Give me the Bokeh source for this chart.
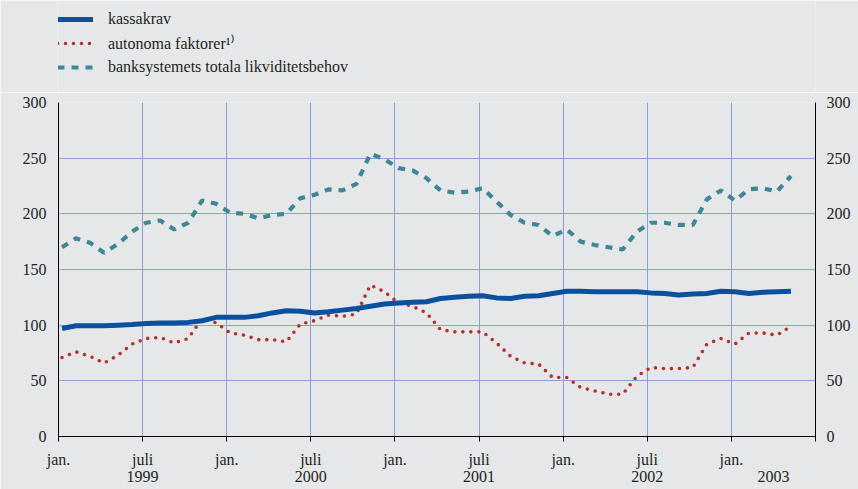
from bokeh.plotting import figure
from bokeh.layouts import column
from bokeh.models import Range1d, LinearAxis, FixedTicker, Legend, LegendItem, ColumnDataSource
from bokeh.embed import file_html
from bokeh.resources import INLINE

# month index counted from January 1999 (0 = jan. 1999), one value per month
month_index = list(range(53))
kassakrav = [97, 99.5, 99.5, 99.5, 100, 100.5, 101.5, 102, 102, 102.5,
             104, 107, 107, 107, 108.5, 111, 113, 112.5, 111, 112,
             113.5, 115, 117, 119, 120, 120.5, 121, 124, 125, 126,
             126.5, 124.5, 124, 126, 126.5, 128.5, 130.5, 130.5, 130, 130,
             130, 130, 129, 128.5, 127, 128, 128.5, 130.5, 130, 128.5,
             129.5, 130, 130.5]
autonoma = [71, 76, 72, 66, 73, 83, 88, 89, 84, 88,
            106, 102, 93, 91, 87, 87, 85, 101, 104, 109,
            108, 110, 136, 130, 120, 117, 111, 96, 94, 94,
            94, 84, 72, 66, 65, 53, 53, 44, 41, 38,
            38, 54, 62, 61, 61, 62, 83, 88, 83, 93,
            93, 91, 99]
likviditet = [170, 178, 174, 165, 173, 184, 192, 194, 186, 192,
              212, 209, 201, 200, 196, 199, 200, 214, 217, 222,
              221, 227, 254, 249, 241, 239, 232, 221, 219, 220,
              223, 211, 199, 192, 190, 180, 186, 175, 172, 170,
              168, 184, 192, 192, 190, 190, 213, 221, 212, 222,
              223, 220, 234]

tick_months = [0, 6, 12, 18, 24, 30, 36, 42, 48, 54]
tick_labels = ["jan.", "juli", "jan.", "juli", "jan.", "juli", "jan.", "juli", "jan.", ""]
year_months = [6, 18, 30, 42, 51]
year_labels = ["1999", "2000", "2001", "2002", "2003"]
y_ticks = [0, 50, 100, 150, 200, 250, 300]

series_names = ["kassakrav", "autonoma faktorer\u00b9\u207e", "banksystemets totala likviditetsbehov"]

BG = "#e6e7e9"
TXT = "#231f20"
FONT = "Liberation Serif"
C_KAS, C_AUT, C_LIQ = "#0b4f9f", "#b5302a", "#3d8797"
STY_KAS = dict(line_color=C_KAS, line_width=5, line_join="round")
STY_AUT = dict(line_color=C_AUT, line_width=3.6, line_dash="0 8", line_cap="round")
STY_LIQ = dict(line_color=C_LIQ, line_width=4.2, line_dash="7 7")

src = ColumnDataSource(dict(
    x=[m + 0.25 for m in month_index],
    kassakrav=kassakrav, autonoma=autonoma, likviditet=likviditet))

# ---------- legend strip (series lie outside its tiny y range, only keys show) ----------
LEG_H = 92
pl = figure(width=858, height=LEG_H, output_backend="svg", toolbar_location=None,
            x_axis_type=None, y_axis_type=None, x_range=Range1d(0, 54), y_range=Range1d(-2, -1),
            min_border=0, background_fill_color=BG, border_fill_color=BG,
            outline_line_color=None)
pl.grid.visible = False
lk = pl.line("x", "kassakrav", source=src, **STY_KAS)
la = pl.line("x", "autonoma", source=src, **STY_AUT)
ll = pl.line("x", "likviditet", source=src, **STY_LIQ)
legend = Legend(items=[LegendItem(label=series_names[0], renderers=[lk]),
                       LegendItem(label=series_names[1], renderers=[la]),
                       LegendItem(label=series_names[2], renderers=[ll])],
                location=(-1, 13), orientation="vertical",
                background_fill_alpha=0, border_line_alpha=0,
                label_text_font=FONT, label_text_font_size="16px", label_text_color=TXT,
                glyph_width=36, glyph_height=24, label_height=24, label_standoff=15,
                spacing=0, padding=0, margin=0)
pl.add_layout(legend, "center")

# ---------- main chart ----------
p = figure(width=858, height=489 - LEG_H, output_backend="svg", toolbar_location=None,
           x_range=Range1d(0, 54), y_range=Range1d(0, 300),
           min_border_left=58, min_border_right=43, min_border_top=10, min_border_bottom=53,
           background_fill_color=BG, border_fill_color=BG, outline_line_color=None)

p.line("x", "likviditet", source=src, **STY_LIQ)
p.line("x", "autonoma", source=src, **STY_AUT)
p.line("x", "kassakrav", source=src, **STY_KAS)

# x axis: month row
xa = p.xaxis[0]
xa.ticker = FixedTicker(ticks=tick_months)
xa.major_label_overrides = {t: l for t, l in zip(tick_months, tick_labels)}
xa.major_tick_in = 0
xa.major_tick_out = 5
xa.minor_tick_out = 0
xa.minor_tick_in = 0
xa.axis_line_color = "black"
xa.major_tick_line_color = "black"
xa.major_label_text_font = FONT
xa.major_label_text_font_size = "16px"
xa.major_label_text_color = TXT
xa.major_label_standoff = 9

# x axis: year row
yr = LinearAxis(ticker=FixedTicker(ticks=year_months),
                major_label_overrides={t: l for t, l in zip(year_months, year_labels)})
yr.axis_line_color = None
yr.major_tick_line_color = None
yr.minor_tick_line_color = None
yr.major_tick_out = 0
yr.major_tick_in = 0
yr.minor_tick_out = 0
yr.minor_tick_in = 0
yr.major_label_text_font = FONT
yr.major_label_text_font_size = "16px"
yr.major_label_text_color = TXT
yr.major_label_standoff = 0
p.add_layout(yr, "below")

ya = p.yaxis[0]
ya.ticker = FixedTicker(ticks=y_ticks)
ya.major_tick_out = 0
ya.major_tick_in = 0
ya.minor_tick_out = 0
ya.minor_tick_in = 0
ya.axis_line_color = "black"
ya.major_label_text_font = FONT
ya.major_label_text_font_size = "16px"
ya.major_label_text_color = TXT
ya.major_label_standoff = 12

ra = LinearAxis(ticker=FixedTicker(ticks=y_ticks))
ra.major_tick_out = 0
ra.major_tick_in = 0
ra.minor_tick_out = 0
ra.minor_tick_in = 0
ra.axis_line_color = "black"
ra.major_label_text_font = FONT
ra.major_label_text_font_size = "16px"
ra.major_label_text_color = TXT
ra.major_label_standoff = 11
p.add_layout(ra, "right")

p.xgrid[0].ticker = FixedTicker(ticks=tick_months)
p.xgrid.grid_line_color = "#8c9fd8"
p.ygrid.grid_line_color = "#8c9fd8"
p.xgrid.grid_line_width = 1
p.ygrid.grid_line_width = 1

layout = column(pl, p, spacing=0)
open("out.html", "w").write(file_html(layout, INLINE))
